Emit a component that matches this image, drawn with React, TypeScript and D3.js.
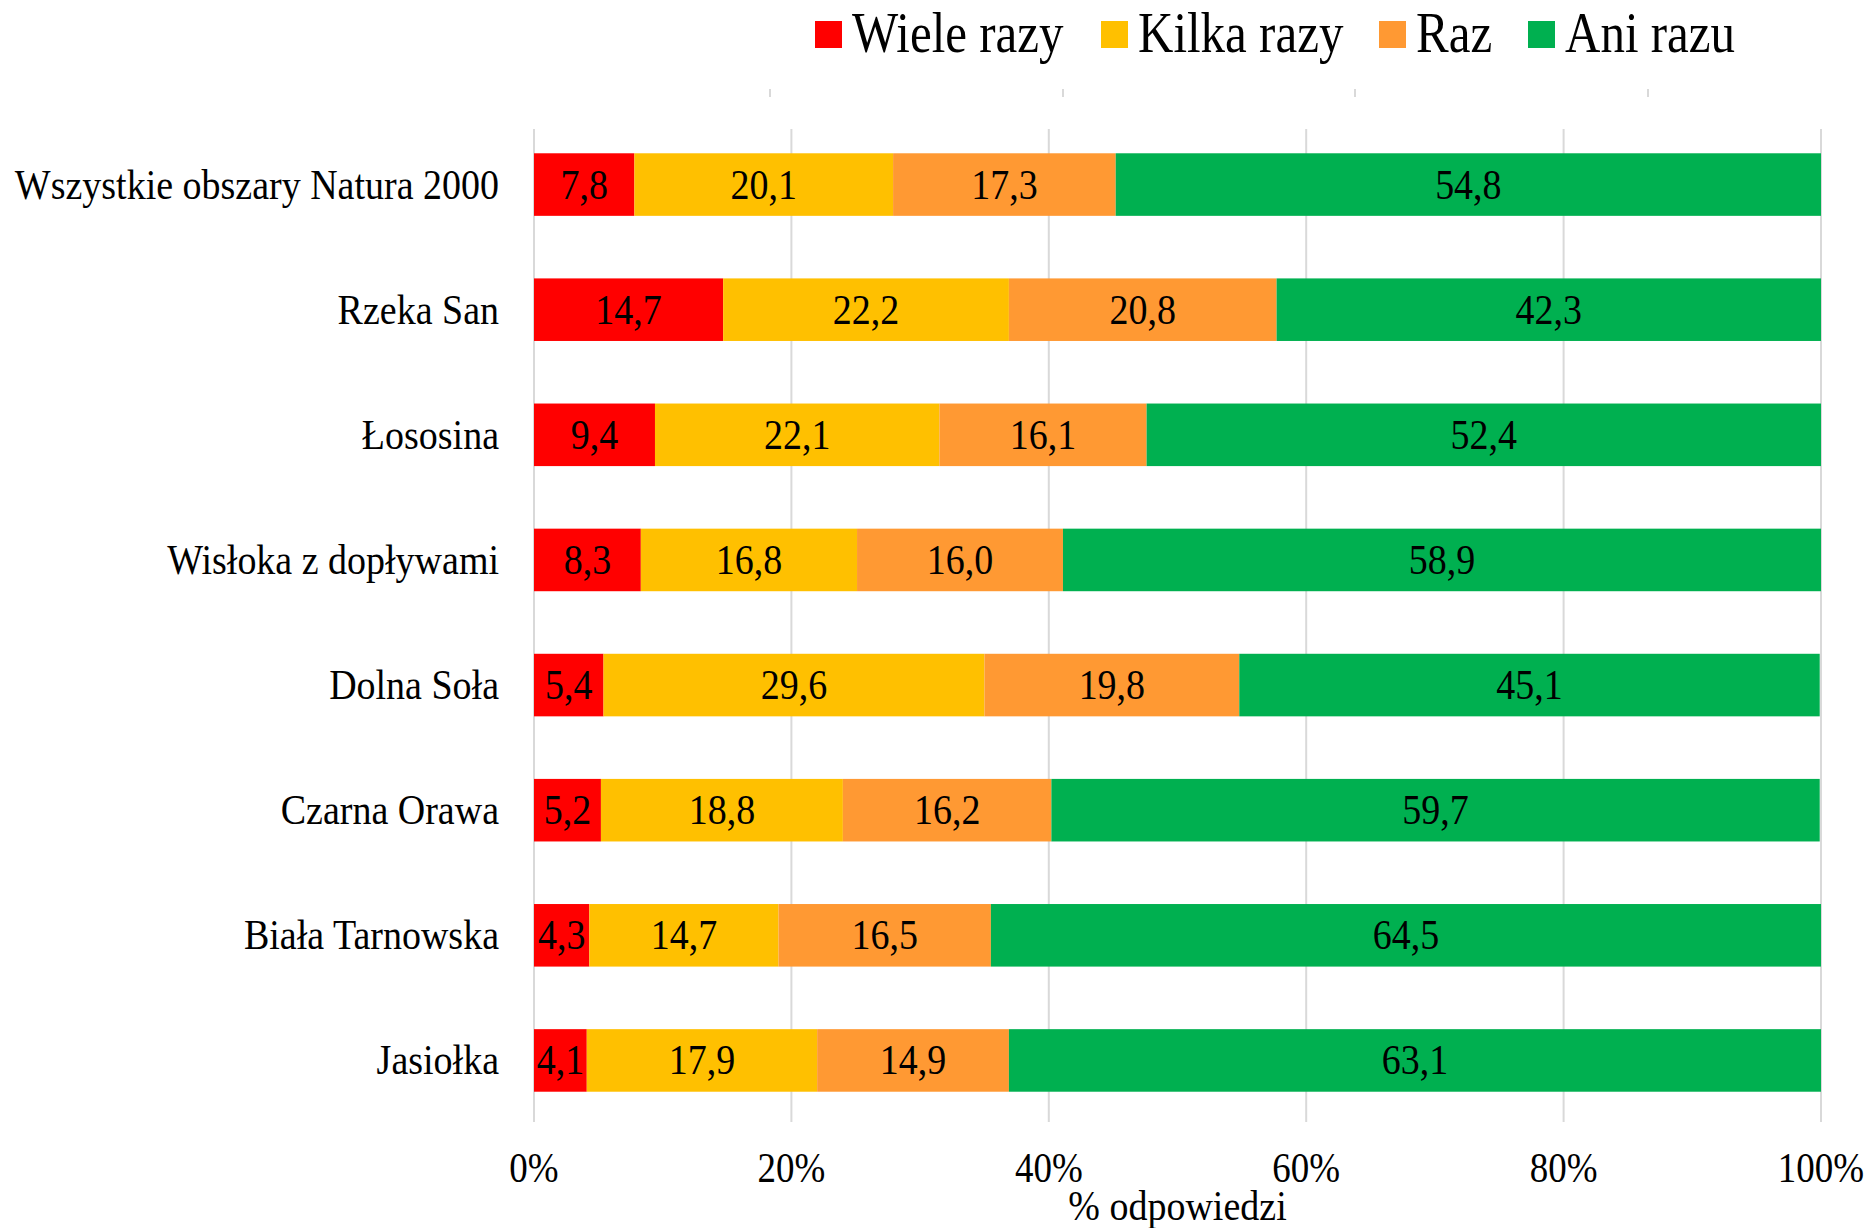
import React from "react";
import * as d3 from "d3";

const categories = [
  "Wszystkie obszary Natura 2000",
  "Rzeka San",
  "Łososina",
  "Wisłoka z dopływami",
  "Dolna Soła",
  "Czarna Orawa",
  "Biała Tarnowska",
  "Jasiołka",
];
const seriesNames = ["Wiele razy", "Kilka razy", "Raz", "Ani razu"];
const seriesColors = ["#FF0000", "#FFC000", "#FF9933", "#00B050"];
const wieleRazy = [7.8, 14.7, 9.4, 8.3, 5.4, 5.2, 4.3, 4.1];
const kilkaRazy = [20.1, 22.2, 22.1, 16.8, 29.6, 18.8, 14.7, 17.9];
const raz = [17.3, 20.8, 16.1, 16.0, 19.8, 16.2, 16.5, 14.9];
const aniRazu = [54.8, 42.3, 52.4, 58.9, 45.1, 59.7, 64.5, 63.1];
const xTicks = [0, 20, 40, 60, 80, 100];
const topMarks = [16, 39, 63, 87];
const axisTitle = "% odpowiedzi";

const W = 1872;
const H = 1228;
const FONT = "'Liberation Serif', 'Times New Roman', serif";

export default function App() {
  const series = [wieleRazy, kilkaRazy, raz, aniRazu];
  const x = d3.scaleLinear().domain([0, 100]).range([534, 1821]);
  const y = d3.scaleBand<string>().domain(categories).range([122, 1123]).paddingInner(0.5).paddingOuter(0.25);
  const rows = categories.map((c, i) => {
    let acc = 0;
    return series.map((s, k) => {
      const x0 = acc;
      acc += s[i];
      return { cat: c, k, v: s[i], x0, x1: acc };
    });
  });
  const fmt = (v: number) => v.toFixed(1).replace(".", ",");
  const sy = 1.12;
  const legendX = [815, 1101, 1379, 1528];
  const topMarkScale = d3.scaleLinear().domain([0, 100]).range([534, 1821]);

  return (
    <svg width={W} height={H} style={{ position: "absolute", left: 0, top: 0, background: "#fff" }} fontFamily={FONT}>
      <rect width={W} height={H} fill="#fff" />
      {/* top small marks */}
      {[770, 1063, 1355, 1648].map((mx, i) => (
        <line key={"tm" + i} x1={mx} x2={mx} y1={89} y2={97} stroke="#d9d9d9" strokeWidth={2} />
      ))}
      {/* gridlines */}
      {xTicks.map((t) => (
        <line key={"g" + t} x1={x(t)} x2={x(t)} y1={129} y2={1122} stroke="#d9d9d9" strokeWidth={2} />
      ))}
      {/* bars */}
      {rows.map((r, i) =>
        r.map((seg) => (
          <rect
            key={i + "-" + seg.k}
            x={x(seg.x0)}
            y={y(seg.cat)!}
            width={x(seg.x1) - x(seg.x0)}
            height={y.bandwidth()}
            fill={seriesColors[seg.k]}
          />
        ))
      )}
      {/* data labels */}
      {rows.map((r, i) =>
        r.map((seg) => (
          <text
            key={"l" + i + "-" + seg.k}
            transform={`translate(${(x(seg.x0) + x(seg.x1)) / 2},${y(seg.cat)! + y.bandwidth() / 2 + 14}) scale(1,${sy})`}
            textAnchor="middle"
            fontSize={38}
            fill="#000"
          >
            {fmt(seg.v)}
          </text>
        ))
      )}
      {/* category labels */}
      {categories.map((c) => (
        <text
          key={"c" + c}
          transform={`translate(499,${y(c)! + y.bandwidth() / 2 + 14}) scale(1,${sy})`}
          textAnchor="end"
          fontSize={38}
          fill="#000"
        >
          {c}
        </text>
      ))}
      {/* x tick labels */}
      {xTicks.map((t) => (
        <text
          key={"t" + t}
          transform={`translate(${x(t)},1182) scale(1,${sy})`}
          textAnchor="middle"
          fontSize={37}
          fill="#000"
        >
          {t + "%"}
        </text>
      ))}
      <text transform={`translate(${(x(0) + x(100)) / 2},1220) scale(1,${sy})`} textAnchor="middle" fontSize={38} fill="#000">
        {axisTitle}
      </text>
      {/* legend */}
      {seriesNames.map((n, k) => (
        <g key={"lg" + k}>
          <rect x={legendX[k]} y={21} width={27} height={27} fill={seriesColors[k]} />
          <text transform={`translate(${legendX[k] + 37},52) scale(1,1.15)`} fontSize={49} fill="#000">
            {n}
          </text>
        </g>
      ))}
    </svg>
  );
}
